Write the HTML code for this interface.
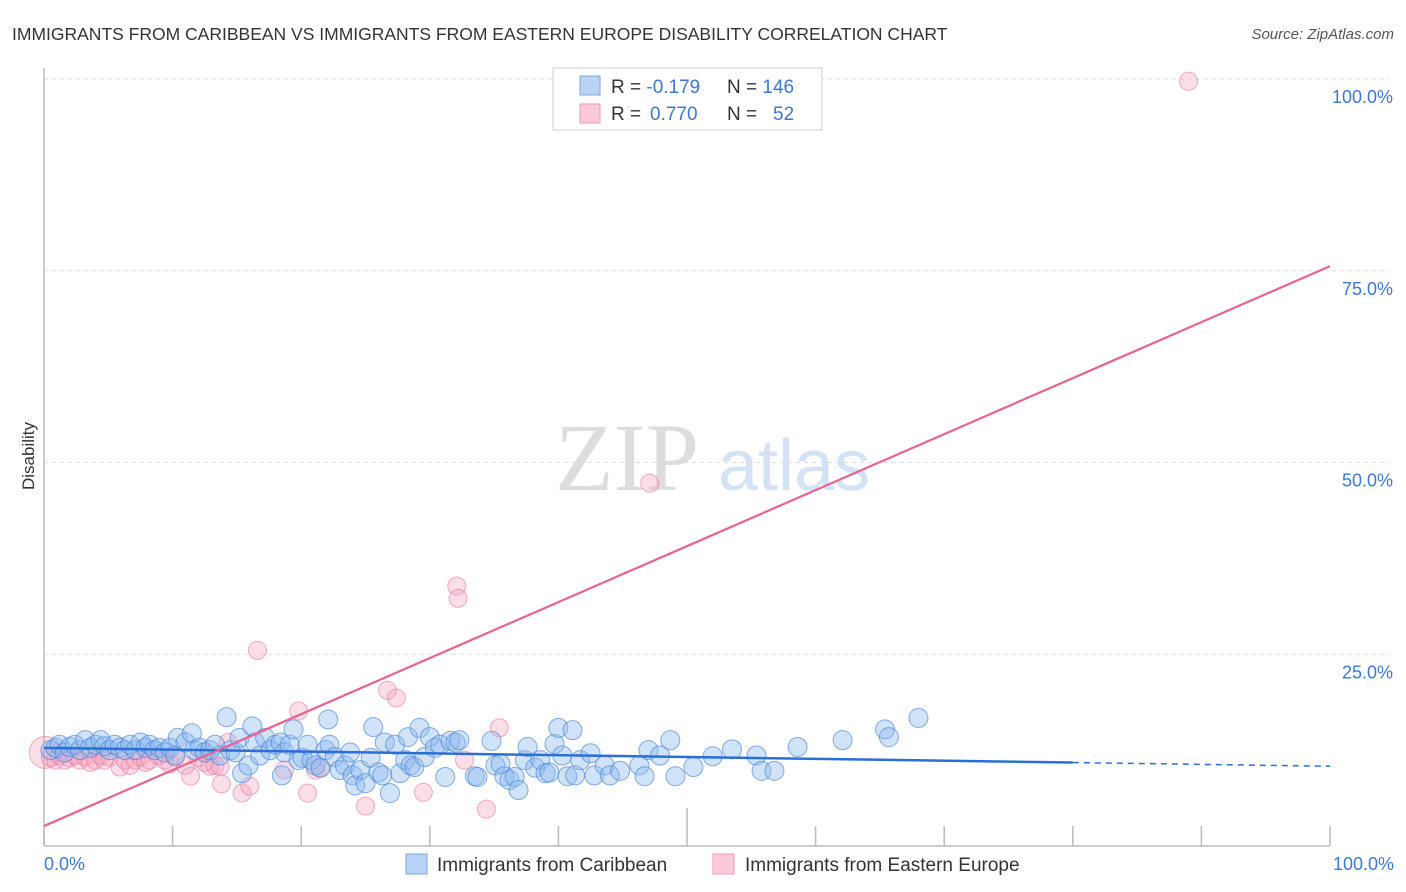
<!DOCTYPE html>
<html><head><meta charset="utf-8"><style>
body{margin:0;background:#fff;font-family:"Liberation Sans",sans-serif;}
#c{position:relative;width:1406px;height:892px;overflow:hidden;}
</style></head><body>
<div id="c">
<svg id="s" width="1406" height="892" xmlns="http://www.w3.org/2000/svg">
<text x="12" y="40" font-size="17.5" fill="#333">IMMIGRANTS FROM CARIBBEAN VS IMMIGRANTS FROM EASTERN EUROPE DISABILITY CORRELATION CHART</text>
<text x="1394" y="39" font-size="15" fill="#555" font-style="italic" text-anchor="end">Source: ZipAtlas.com</text>
<text x="34" y="456" font-size="17" fill="#333" text-anchor="middle" transform="rotate(-90 34 456)">Disability</text>
<g id="grid"></g>
<text x="555" y="490" font-size="96" fill="#ddd" font-family="Liberation Serif,serif">ZIP</text>
<text x="718" y="490" font-size="72" fill="#d3e2f5">atlas</text>
<g id="pts"></g>
<g id="lines"></g>
<g>
<rect x="553" y="68" width="269" height="62" fill="#fff" stroke="#ccc"/>
<rect x="580" y="76" width="20" height="19" fill="#b8d3f5" stroke="#7aa7e6"/>
<rect x="580" y="104" width="20" height="19" fill="#fbc9d8" stroke="#ee9ab5"/>
<text x="611" y="93" font-size="19" fill="#333">R = <tspan fill="#3b78d8">-0.179</tspan><tspan x="727">N = </tspan><tspan fill="#3b78d8">146</tspan></text>
<text x="611" y="120" font-size="19" fill="#333">R = <tspan fill="#3b78d8" x="650">0.770</tspan><tspan x="727">N = </tspan><tspan fill="#3b78d8" x="773">52</tspan></text>
</g>
<g>
<rect x="406" y="854" width="21" height="20" fill="#b8d3f5" stroke="#7aa7e6"/>
<text x="437" y="871" font-size="19" fill="#333">Immigrants from Caribbean</text>
<rect x="713" y="854" width="21" height="20" fill="#fbc9d8" stroke="#ee9ab5"/>
<text x="745" y="871" font-size="19" fill="#333">Immigrants from Eastern Europe</text>
</g>
<text x="44" y="870" font-size="18" fill="#3b78d8">0.0%</text>
<text x="1394" y="870" font-size="18" fill="#3b78d8" text-anchor="end">100.0%</text>
</svg>
</div>
<script>
const blueX=[0.5,0.9,1.2,1.6,2.0,2.4,2.8,3.2,3.6,4.0,4.4,4.7,5.1,5.5,5.9,6.3,6.7,7.1,7.5,7.9,8.2,8.6,9.0,9.4,9.8,10.2,10.4,11.0,11.5,11.7,12.1,12.5,12.9,13.3,13.7,14.2,14.5,14.9,15.2,15.4,15.9,16.2,16.4,16.8,17.2,17.6,18.0,18.4,18.5,18.7,19.1,19.4,19.8,20.1,20.5,20.8,21.1,21.5,21.9,22.1,22.2,22.6,23.0,23.4,23.8,24.0,24.2,24.6,25.0,25.4,25.6,26.0,26.3,26.5,26.9,27.3,27.7,28.1,28.3,28.5,28.8,29.2,29.6,30.0,30.4,30.8,31.2,31.6,32.0,32.3,33.5,33.7,34.8,35.1,35.5,35.8,36.2,36.6,36.9,37.4,37.6,38.2,38.6,39.0,39.3,39.7,40.0,40.3,40.7,41.1,41.3,41.7,42.5,42.8,43.6,44.0,44.8,46.3,46.7,47.0,47.9,48.7,49.1,50.5,52.0,53.5,55.4,55.8,56.8,58.6,62.1,65.4,65.7,68.0];
const blueY=[12.5,12.8,13.2,12.2,12.9,13.2,12.5,13.8,12.8,13.2,13.8,13.0,12.5,13.2,12.8,12.5,13.2,12.5,13.5,12.8,13.2,12.5,12.8,12.2,12.8,11.8,14.1,13.5,14.7,12.5,12.8,12.2,12.5,13.2,11.8,16.8,12.5,12.2,14.1,9.5,10.5,15.6,13.5,11.8,14.1,12.5,13.2,13.5,9.2,12.2,13.2,15.2,11.2,11.5,13.2,11.2,10.5,10.2,12.5,16.5,13.2,11.6,9.9,10.5,12.2,9.2,7.9,9.9,8.2,11.5,15.5,9.6,9.2,13.5,6.9,13.2,9.5,11.2,14.2,10.5,10.3,15.4,11.6,14.2,12.8,13.2,9.0,13.7,13.5,13.8,9.1,9.0,13.7,10.5,10.7,9.1,8.6,9.0,7.3,11.2,12.9,10.2,11.2,9.5,9.6,13.3,15.4,11.8,9.1,15.1,9.2,11.2,12.1,9.2,10.5,9.2,9.8,10.5,9.1,12.5,11.8,13.8,9.1,10.3,11.7,12.6,11.8,9.8,9.8,12.9,13.8,15.2,14.2,16.7];
const pinkX=[0.1,0.5,0.9,1.2,1.6,2.0,2.4,2.8,3.2,3.6,4.0,4.4,4.7,5.1,5.9,6.3,6.7,7.1,7.5,7.9,8.2,8.9,9.4,9.8,10.2,11.0,11.4,12.0,12.5,12.9,13.3,13.7,13.8,14.3,15.4,16.0,16.6,18.7,19.8,20.5,21.1,21.5,25.0,26.7,27.4,29.5,32.1,32.2,32.7,34.4,35.4,47.1,89.0];
const pinkY=[12.2,11.5,11.2,11.8,11.2,11.5,11.8,11.2,11.6,10.9,11.2,11.8,11.2,11.6,10.3,11.2,10.5,11.2,11.6,10.9,11.2,11.8,11.2,10.7,11.6,10.5,9.1,11.5,10.9,10.4,10.5,10.4,8.1,13.5,6.9,7.8,25.5,9.9,17.6,6.9,9.9,10.2,5.2,20.3,19.3,7.0,33.9,32.3,11.2,4.8,15.4,47.3,99.7];
const yTicks=[25,50,75,100];
const xTicks=[0,10,20,30,40,50,60,70,80,90,100];
const blueFit=[12.8,10.4]; const blueSolidEnd=80;
const pinkFit=[2.6,75.6];
const X0=44,X1=1330,Y0=846,Y1=79;
const sx=v=>X0+(X1-X0)*v/100, sy=v=>Y0-(Y0-Y1)*v/100;
const NS="http://www.w3.org/2000/svg";
function mk(t,a,p){const e=document.createElementNS(NS,t);for(const k in a)e.setAttribute(k,a[k]);p.appendChild(e);return e;}
const grid=document.getElementById('grid');
yTicks.forEach(v=>{
 const l=mk('line',{x1:X0,x2:X1+60,y1:sy(v),y2:sy(v),stroke:'#ddd','stroke-dasharray':'4 4'},grid);
 
 
 const t=mk('text',{x:1393,y:sy(v)+24,'font-size':18,fill:'#3b78d8','text-anchor':'end'},grid);
 t.textContent=v.toFixed(1)+'%';
 
 
});
const ax=mk('line',{x1:X0,x2:X1,y1:Y0,y2:Y0,stroke:'#bbb','stroke-width':1.5},grid);


const ay=mk('line',{x1:X0,x2:X0,y1:68,y2:Y0,stroke:'#bbb','stroke-width':1.5},grid);


xTicks.forEach(v=>{
 const t=mk('line',{x1:sx(v),x2:sx(v),y1:(v==50?808:826),y2:Y0,stroke:'#bbb','stroke-width':1.5},grid);
 
 
});
const pts=document.getElementById('pts');
pinkX.forEach((v,i)=>{
 const c=mk('circle',{cx:sx(v),cy:sy(pinkY[i]),r:i==0?16:9,fill:'rgba(246,160,188,0.35)',stroke:'rgba(232,120,156,0.6)','stroke-width':1},pts);
 
 
});
blueX.forEach((v,i)=>{
 const c=mk('circle',{cx:sx(v),cy:sy(blueY[i]),r:9.5,fill:'rgba(140,184,240,0.4)',stroke:'rgba(70,130,220,0.65)','stroke-width':1},pts);
 
 
});
const lines=document.getElementById('lines');
const by=x=>blueFit[0]+(blueFit[1]-blueFit[0])*x/100;
const b1=mk('line',{x1:sx(0),y1:sy(by(0)),x2:sx(blueSolidEnd),y2:sy(by(blueSolidEnd)),stroke:'#2a6fd6','stroke-width':2.5},lines);


const b2=mk('line',{x1:sx(blueSolidEnd),y1:sy(by(blueSolidEnd)),x2:sx(100),y2:sy(by(100)),stroke:'#2a6fd6','stroke-width':1.5,'stroke-dasharray':'6 5'},lines);


const p1=mk('line',{x1:sx(0),y1:sy(pinkFit[0]),x2:sx(100),y2:sy(pinkFit[1]),stroke:'#e8638f','stroke-width':2.2},lines);


</script>
</body></html>
